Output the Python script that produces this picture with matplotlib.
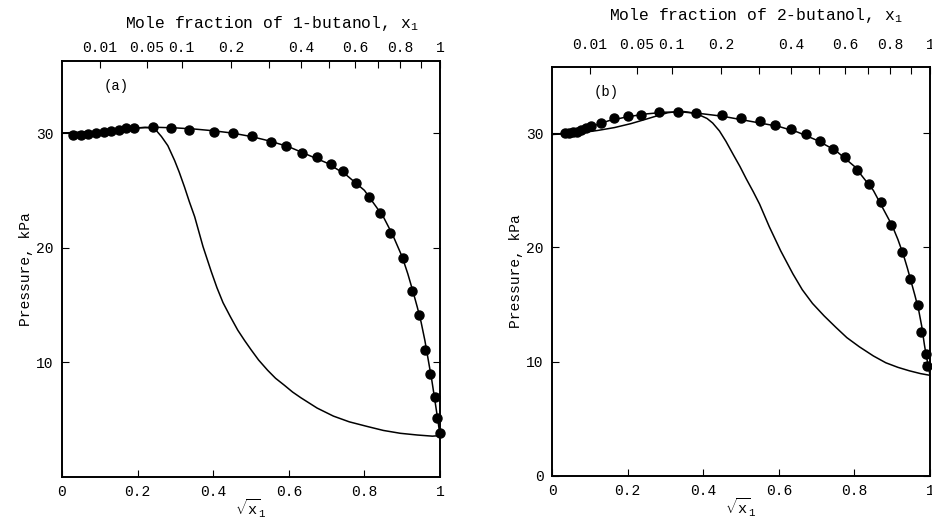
import numpy as np
import matplotlib
matplotlib.use('Agg')
import matplotlib.pyplot as plt

plt.rcParams['font.family'] = ['Liberation Mono', 'DejaVu Sans Mono']
plt.rcParams['mathtext.fontset'] = 'custom'
plt.rcParams['mathtext.rm'] = 'Liberation Mono'
plt.rcParams['mathtext.it'] = 'Liberation Mono'

# (a) 1-butanol: measured points, sqrt(x1) vs P / kPa
a_sx = [0.03, 0.05, 0.07, 0.09, 0.11, 0.13, 0.15, 0.17, 0.19, 0.24, 0.288, 0.336,
        0.402, 0.452, 0.503, 0.553, 0.592, 0.635, 0.675, 0.711, 0.743, 0.779, 0.811,
        0.840, 0.868, 0.901, 0.926, 0.945, 0.961, 0.974, 0.987, 0.991, 1.0]
a_p = [29.8, 29.8, 29.9, 30.0, 30.1, 30.2, 30.3, 30.4, 30.45, 30.5, 30.4, 30.3,
       30.1, 30.0, 29.7, 29.2, 28.9, 28.3, 27.9, 27.3, 26.7, 25.6, 24.4,
       23.0, 21.3, 19.1, 16.2, 14.1, 11.1, 9.0, 7.0, 5.1, 3.8]
# bubble (through points) and dew curves
a_bub_sx = [0, 0.05, 0.1, 0.15, 0.2, 0.25, 0.3, 0.35, 0.4, 0.45, 0.5, 0.55, 0.6, 0.65,
            0.7, 0.75, 0.8, 0.85, 0.875, 0.9, 0.915, 0.93, 0.94, 0.95, 0.96, 0.97,
            0.978, 0.985, 0.99, 0.995, 1.0]
a_bub_p = [30.0, 30.05, 30.15, 30.3, 30.45, 30.5, 30.45, 30.35, 30.2, 30.0, 29.7, 29.3,
           28.8, 28.1, 27.4, 26.4, 25.0, 22.7, 21.1, 19.2, 17.7, 16.0, 14.8, 13.5, 11.9,
           10.0, 8.5, 7.0, 5.9, 4.8, 3.6]
a_dew_sx = [0, 0.1, 0.2, 0.22, 0.237, 0.25, 0.263, 0.28, 0.298, 0.31, 0.324, 0.337,
            0.351, 0.362, 0.373, 0.385, 0.395, 0.41, 0.426, 0.445, 0.465, 0.483, 0.5,
            0.52, 0.544, 0.565, 0.588, 0.61, 0.632, 0.675, 0.718, 0.76, 0.807, 0.85,
            0.895, 0.94, 0.98, 1.0]
a_dew_p = [30.0, 30.15, 30.45, 30.5, 30.45, 30.2, 29.7, 28.9, 27.6, 26.6, 25.3, 24.0,
           22.7, 21.4, 20.1, 18.9, 17.9, 16.5, 15.2, 14.0, 12.8, 11.9, 11.1,
           10.2, 9.3, 8.6, 8.0, 7.4, 6.9, 6.0, 5.3, 4.8, 4.4, 4.05,
           3.8, 3.65, 3.55, 3.6]

# (b) 2-butanol
b_sx = [0.035, 0.045, 0.055, 0.065, 0.077, 0.09, 0.104, 0.13, 0.165, 0.2, 0.236, 0.284,
        0.333, 0.381, 0.45, 0.5, 0.549, 0.59, 0.632, 0.672, 0.709, 0.744, 0.776, 0.807,
        0.839, 0.870, 0.898, 0.927, 0.948, 0.967, 0.975, 0.989, 0.993]
b_p = [30.0, 30.0, 30.1, 30.15, 30.3, 30.45, 30.6, 30.9, 31.3, 31.5, 31.6, 31.85,
       31.85, 31.8, 31.6, 31.3, 31.1, 30.75, 30.4, 29.9, 29.3, 28.6, 27.9, 26.8,
       25.6, 24.0, 22.0, 19.6, 17.2, 15.0, 12.6, 10.7, 9.6]
b_bub_sx = [0, 0.05, 0.1, 0.15, 0.2, 0.25, 0.3, 0.35, 0.4, 0.45, 0.5, 0.55, 0.6, 0.65,
            0.7, 0.75, 0.8, 0.85, 0.9, 0.915, 0.93, 0.94, 0.95, 0.96, 0.97, 0.978,
            0.985, 0.99, 0.995, 1.0]
b_bub_p = [29.9, 30.05, 30.55, 31.1, 31.45, 31.7, 31.85, 31.85, 31.7, 31.5, 31.2, 30.9,
           30.6, 30.1, 29.4, 28.5, 27.1, 25.0, 21.9, 20.7, 19.3, 18.2, 17.0, 15.8, 14.5,
           13.1, 11.5, 10.5, 9.7, 8.8]
b_dew_sx = [0, 0.04, 0.077, 0.121, 0.165, 0.209, 0.245, 0.28, 0.306, 0.33, 0.35, 0.37,
            0.39, 0.41, 0.425, 0.443, 0.46, 0.48, 0.497, 0.514, 0.532, 0.549, 0.575,
            0.605, 0.637, 0.662, 0.689, 0.72, 0.751, 0.78, 0.813, 0.85, 0.883, 0.915,
            0.945, 0.975, 1.0]
b_dew_p = [29.9, 29.95, 30.05, 30.25, 30.5, 30.85, 31.2, 31.55, 31.8, 31.9, 31.9, 31.8,
           31.6, 31.3, 30.9, 30.2, 29.3, 28.1, 27.1, 26.0, 24.9, 23.8, 21.8,
           19.7, 17.7, 16.3, 15.1, 14.0, 13.0, 12.1, 11.3, 10.5, 9.9, 9.5,
           9.2, 8.95, 8.8]

top_x = [0.01, 0.05, 0.1, 0.2, 0.3, 0.4, 0.5, 0.6, 0.7, 0.8, 0.9, 1.0]
top_lbl = ['0.01', '0.05', '0.1', '0.2', '', '0.4', '', '0.6', '', '0.8', '', '1']

fig = plt.figure(figsize=(9.32, 5.2), dpi=100)
ax1 = fig.add_axes([0.0665, 0.083, 0.4056, 0.80])
ax2 = fig.add_axes([0.5923, 0.085, 0.4056, 0.786])


def panel(ax, sx, p, bsx, bp, dsx, dp, name, tag, ytop, show0, tx, ty, tpad):
    ax.plot(bsx, bp, color='black', lw=1.1)
    ax.plot(dsx, dp, color='black', lw=1.1)
    ax.plot(sx, p, 'o', color='black', ms=6.5, clip_on=False)
    ax.set_xlim(0, 1)
    ax.set_ylim(0, ytop)
    ax.set_xticks([0, 0.2, 0.4, 0.6, 0.8, 1])
    ax.set_xticklabels(['0', '0.2', '0.4', '0.6', '0.8', '1'])
    ax.set_yticks([0, 10, 20, 30] if show0 else [10, 20, 30])
    ax.tick_params(direction='in', right=True, labelsize=10.5, length=5, pad=6)
    ax.set_xlabel(r'$\sqrt{\mathrm{x}}_{1}$', fontsize=11, labelpad=-1)
    ax.set_ylabel('Pressure, kPa', fontsize=10.5, labelpad=2)
    ax.text(0.11, 0.93, tag, transform=ax.transAxes, fontsize=10)
    top = ax.twiny()
    top.set_xlim(0, 1)
    top.set_xticks(np.sqrt(top_x))
    top.set_xticklabels(top_lbl)
    top.tick_params(direction='in', labelsize=10.5, length=5, pad=tpad)
    top.set_xlabel('Mole fraction of ' + name + r', x$_{1}$', fontsize=11.8)
    top.xaxis.set_label_coords(tx, ty)
    for a in (ax, top):
        for s in a.spines.values():
            s.set_linewidth(1.2)


panel(ax1, a_sx, a_p, a_bub_sx, a_bub_p, a_dew_sx, a_dew_p, '1-butanol', '(a)',
      36.3, False, 0.556, 1.08, 4)
panel(ax2, b_sx, b_p, b_bub_sx, b_bub_p, b_dew_sx, b_dew_p, '2-butanol', '(b)',
      35.8, True, 0.54, 1.115, 11)

fig.savefig('out.png', dpi=100)
